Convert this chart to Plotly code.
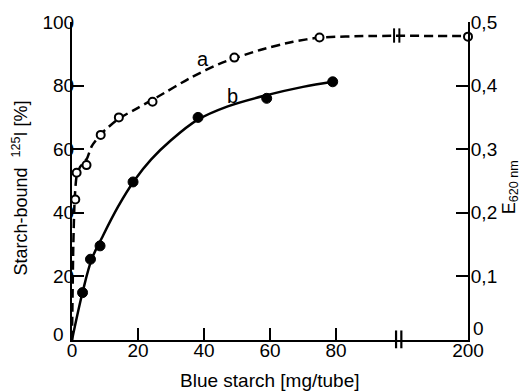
import plotly.graph_objects as go

# ---- data ----
a_x = [1, 1.4, 4.4, 8.7, 14.2, 24.4, 49.2, 75, 200]
a_y = [44.2, 52.6, 55.0, 64.5, 70.0, 74.9, 88.8, 95.1, 95.4]
b_x = [3.2, 5.6, 8.5, 18.5, 38.2, 59, 79]
b_y = [14.9, 25.4, 29.6, 49.7, 70.0, 76.0, 81.2]

# fitted curves as drawn in the reference
curve_a_x = [0, 0.4, 0.8, 1.4, 2.5, 4.5, 6, 9, 14, 20, 26, 36, 45, 57, 67, 75, 90, 200]
curve_a_y = [0, 30, 44, 51.5, 54.5, 57, 61, 65, 69.5, 73, 76.5, 82.5, 87, 91.2, 93.8, 95.1, 95.6, 95.6]
curve_b_x = [0, 3.2, 6, 9, 14, 19, 24, 30, 38, 47, 59, 70, 79]
curve_b_y = [0, 15.0, 25.5, 32.0, 42.0, 50.3, 56.8, 62.8, 69.2, 73.4, 77.0, 79.6, 81.2]

x_ticks = [0, 20, 40, 60, 80, 200]
y_ticks = [0, 20, 40, 60, 80, 100]
y2_ticks = [0, 0.1, 0.2, 0.3, 0.4, 0.5]
y2_labels = ["0", "0,1", "0,2", "0,3", "0,4", "0,5"]

# broken x axis: values above the break are drawn at a compressed position
BREAK_POS = {200: 120}


def xpos(v):
    return BREAK_POS.get(v, v)


FONT = "Liberation Sans, Arial, sans-serif"

fig = go.Figure()
fig.add_trace(go.Scatter(x=[xpos(v) for v in curve_a_x], y=curve_a_y, mode="lines",
                         line=dict(color="black", width=2.5, dash="9px,5px", shape="spline", smoothing=0.6),
                         hoverinfo="skip", showlegend=False, cliponaxis=False))
fig.add_trace(go.Scatter(x=[xpos(v) for v in curve_b_x], y=curve_b_y, mode="lines",
                         line=dict(color="black", width=2.5, shape="spline", smoothing=1.0),
                         hoverinfo="skip", showlegend=False, cliponaxis=False))
fig.add_trace(go.Scatter(x=[xpos(v) for v in a_x], y=a_y, mode="markers",
                         marker=dict(symbol="circle", size=8, color="white", line=dict(color="black", width=2)),
                         showlegend=False, cliponaxis=False))
fig.add_trace(go.Scatter(x=[xpos(v) for v in b_x], y=b_y, mode="markers",
                         marker=dict(symbol="circle", size=10, color="black", line=dict(color="black", width=1)),
                         showlegend=False, cliponaxis=False))
# invisible trace to activate the right axis
fig.add_trace(go.Scatter(x=[0], y=[0], yaxis="y2", mode="markers", marker=dict(opacity=0),
                         showlegend=False, hoverinfo="skip"))

axis_common = dict(showline=True, linecolor="black", linewidth=2, ticks="inside", ticklen=12,
                   tickwidth=2, tickcolor="black", showgrid=False, zeroline=False, automargin=False,
                   tickfont=dict(family=FONT, size=19, color="black"))

# the zero labels of both y axes sit a little above the x axis; they are drawn separately below
y_axis_vals = y_ticks[1:]
y2_axis_vals = y2_ticks[1:]

# page body has an 8px margin, so the figure is 8px smaller than the window
fig.update_layout(
    width=519, height=384,
    margin=dict(l=64, r=59, t=14, b=52),
    paper_bgcolor="white", plot_bgcolor="white",
    xaxis=dict(range=[0, 120], tickvals=[xpos(v) for v in x_ticks], ticktext=[str(v) for v in x_ticks],
               ticklabelstandoff=-8, **axis_common),
    yaxis=dict(range=[0, 100], tickvals=y_axis_vals, ticktext=[str(v) for v in y_axis_vals],
               ticklabelstandoff=-8, **axis_common),
    yaxis2=dict(range=[0, 0.5], overlaying="y", side="right", tickvals=y2_axis_vals,
                ticktext=y2_labels[1:], ticklabelstandoff=-3, **axis_common),
)

# axis break marks
for xb in [98.2, 99.8]:
    fig.add_shape(type="line", xref="x", yref="paper", x0=xb, x1=xb, y0=-0.026, y1=0.03,
                  line=dict(color="black", width=2.2))
    fig.add_shape(type="line", xref="x", yref="y", x0=xb - 0.6, x1=xb - 0.6, y0=93.5, y1=98,
                  line=dict(color="black", width=2))

tick_font = dict(family=FONT, size=19, color="black")
fig.add_annotation(x=0, y=y_ticks[0], xref="paper", yref="y", text=str(y_ticks[0]),
                   xanchor="right", yanchor="middle", xshift=-6, yshift=6, showarrow=False, font=tick_font)
fig.add_annotation(x=1, y=y2_ticks[0], xref="paper", yref="y2", text=y2_labels[0],
                   xanchor="left", yanchor="middle", xshift=3, yshift=12, showarrow=False, font=tick_font)

ann_font = dict(family=FONT, size=20, color="black")
fig.add_annotation(x=39.7, y=88.5, xref="x", yref="y", text="a", showarrow=False, font=ann_font)
fig.add_annotation(x=48.7, y=76.8, xref="x", yref="y", text="b", showarrow=False, font=ann_font)
fig.add_annotation(x=0.5, y=-0.126, xref="paper", yref="paper", text="Blue starch [mg/tube]",
                   xanchor="center", yanchor="middle",
                   showarrow=False, font=dict(family=FONT, size=19, color="black"))
fig.add_annotation(x=-0.13, y=0.478, xref="paper", yref="paper",
                   text="Starch-bound  <sup>125</sup>I [%]", textangle=-90,
                   xanchor="center", yanchor="middle",
                   showarrow=False, font=dict(family=FONT, size=18, color="black"))
fig.add_annotation(x=1.106, y=0.48, xref="paper", yref="paper",
                   text="E<sub>620 nm</sub>", textangle=-90,
                   xanchor="center", yanchor="middle",
                   showarrow=False, font=dict(family=FONT, size=18, color="black"))

fig.write_html("out.html")
